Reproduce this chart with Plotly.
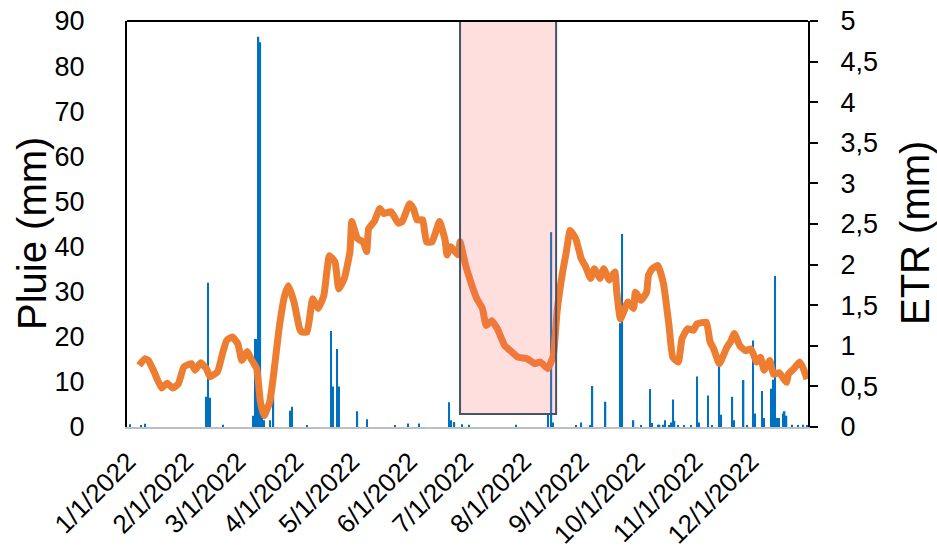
import pandas as pd
import plotly.graph_objects as go

YEAR_START = pd.Timestamp("2022-01-01")

# Daily rainfall (mm): day of year (Jan 1 = 0) and amount, rainy days only
rain_day = [1, 7, 9, 42, 43, 44, 51, 67, 68, 69, 70, 71, 72, 73, 76, 78, 87, 88,
            96, 109, 110, 112, 113, 123, 128, 143, 150, 156, 172, 173, 175, 179,
            183, 208, 225, 227, 228, 240, 243, 248, 249, 256, 264, 265, 271, 275,
            280, 281, 284, 285, 287, 288, 290, 291, 292, 293, 295, 298, 302, 305,
            306, 311, 313, 317, 318, 324, 325, 330, 332, 335, 336, 340, 341, 345,
            346, 347, 348, 349, 351, 352, 353, 356, 359, 362, 364]
rain_mm = [0.6, 0.3, 0.7, 6.7, 32.0, 6.5, 0.5, 2.5, 19.5, 19.5, 86.5, 85.3, 2.5, 1.5, 1.5, 6.8, 3.6, 4.5,
           0.4, 21.3, 9.0, 17.3, 9.0, 3.5, 1.7, 0.3, 0.8, 0.8, 5.5, 1.5, 1.1, 0.6,
           0.5, 0.5, 3.0, 43.2, 1.0, 0.3, 1.0, 0.4, 9.1, 5.6, 23.0, 42.8, 1.5, 0.3,
           8.4, 0.9, 0.5, 0.5, 0.5, 1.5, 0.4, 1.0, 6.1, 1.4, 0.3, 0.4, 0.3, 11.2,
           1.0, 7.0, 0.3, 14.0, 2.7, 6.7, 1.5, 10.4, 0.4, 19.2, 3.0, 8.0, 2.0, 8.5,
           10.5, 33.5, 2.0, 2.0, 3.0, 3.5, 2.5, 0.5, 0.4, 0.5, 0.3]

# Actual evapotranspiration (mm/day), sampled along the year
etr_day = [6, 9, 11, 14, 18, 21, 24, 27, 30, 34, 36, 39, 42, 44, 48, 51, 53, 56, 59,
           61, 64, 66, 69, 71, 73, 76, 78, 81, 84, 86, 89, 92, 93, 96, 99, 102, 105,
           108, 111, 113, 116, 119, 120, 123, 126, 128, 129, 132, 135, 137, 141, 145,
           147, 151, 153, 155, 158, 160, 163, 167, 170, 171, 173, 177, 178, 181, 184,
           187, 190, 192, 195, 198, 202, 205, 209, 214, 218, 221, 225, 228, 230, 233,
           235, 237, 240, 243, 245, 248, 250, 253, 255, 258, 261, 262, 264, 268, 271,
           272, 275, 278, 279, 281, 284, 287, 290, 292, 295, 297, 300, 303, 305, 310,
           312, 314, 317, 321, 323, 325, 328, 331, 334, 337, 339, 341, 344, 346, 349,
           353, 354, 357, 360, 362, 364]
etr_mm = [0.76, 0.84, 0.82, 0.68, 0.48, 0.54, 0.48, 0.53, 0.74, 0.78, 0.70, 0.79, 0.72, 0.62, 0.68, 0.93, 1.07, 1.11, 1.02,
          0.82, 0.93, 0.84, 0.72, 0.31, 0.14, 0.31, 0.63, 1.21, 1.62, 1.74, 1.54, 1.21, 1.17, 1.17, 1.58, 1.46, 1.62,
          2.11, 2.03, 1.70, 1.83, 2.16, 2.53, 2.32, 2.28, 2.16, 2.44, 2.53, 2.69, 2.63, 2.65, 2.51,
          2.53, 2.75, 2.69, 2.55, 2.55, 2.28, 2.28, 2.53, 2.30, 2.12, 2.22, 2.12, 2.28, 1.99, 1.77,
          1.58, 1.46, 1.25, 1.31, 1.21, 1.00, 0.94, 0.86, 0.84, 0.78, 0.80, 0.72, 0.88, 1.42, 1.91,
          2.16, 2.42, 2.32, 2.07, 1.99, 1.83, 1.95, 1.83, 1.95, 1.81, 1.91, 1.66, 1.33, 1.54, 1.46,
          1.66, 1.56, 1.66, 1.87, 1.95, 1.99, 1.77, 1.25, 0.86, 0.80, 1.09, 1.21, 1.19, 1.27, 1.29,
          1.05, 0.96, 0.78, 0.98, 1.05, 1.15, 1.00, 0.94, 0.96, 0.80, 0.86, 0.70, 0.82, 0.65, 0.67,
          0.55, 0.65, 0.72, 0.80, 0.72, 0.59]

# Month ticks on the date axis
month_ticks = ["2022-01-01", "2022-02-01", "2022-03-01", "2022-04-01", "2022-05-01", "2022-06-01",
               "2022-07-01", "2022-08-01", "2022-09-01", "2022-10-01", "2022-11-01", "2022-12-01"]
month_labels = ["1/1/2022", "2/1/2022", "3/1/2022", "4/1/2022", "5/1/2022", "6/1/2022",
                "7/1/2022", "8/1/2022", "9/1/2022", "10/1/2022", "11/1/2022", "12/1/2022"]

# Right axis ticks (decimal comma)
etr_ticks = [0, 0.5, 1, 1.5, 2, 2.5, 3, 3.5, 4, 4.5, 5]
etr_tick_text = ["0", "0,5", "1", "1,5", "2", "2,5", "3", "3,5", "4", "4,5", "5"]

# Highlighted dry period
dry_start, dry_end = "2022-06-28", "2022-08-18 12:00"
dry_bottom = 2.9

rain_dates = YEAR_START + pd.to_timedelta(rain_day, unit="D")
etr_dates = YEAR_START + pd.to_timedelta(etr_day, unit="D")

FONT = "Liberation Sans, Arial, sans-serif"

fig = go.Figure()
fig.add_trace(go.Bar(
    x=rain_dates, y=rain_mm, name="Pluie",
    marker=dict(color="#0070C0", line=dict(width=0)),
    width=86400000 * 0.75,
))
fig.add_trace(go.Scatter(
    x=etr_dates, y=etr_mm, name="ETR", yaxis="y2", mode="lines",
    line=dict(color="#ED7D31", width=7, shape="spline", smoothing=0.4),
))

# Dry-period box
fig.add_shape(type="rect", xref="x", yref="y",
              x0=dry_start, x1=dry_end, y0=dry_bottom, y1=90,
              fillcolor="rgba(255,105,105,0.22)",
              line=dict(color="#44546A", width=2), layer="above")
# Top border of the plot area
fig.add_shape(type="line", xref="paper", yref="paper", x0=0, x1=1, y0=1, y1=1,
              line=dict(color="black", width=2), layer="above")

fig.update_layout(
    width=937, height=554,
    margin=dict(l=127, r=129, t=21, b=127, autoexpand=False),
    paper_bgcolor="white", plot_bgcolor="white",
    showlegend=False,
    font=dict(family=FONT, size=27, color="black"),
    xaxis=dict(
        type="date", automargin=False,
        range=["2021-12-31 12:00", "2022-12-31 12:00"],
        tickvals=month_ticks, ticktext=month_labels,
        tickangle=-45, ticks="", showgrid=False, zeroline=False,
        showline=True, linecolor="#BFBFBF", linewidth=2,
        tickfont=dict(size=26), ticklabelstandoff=7,
    ),
    yaxis=dict(
        range=[0, 90], dtick=10, showgrid=False, zeroline=False,
        automargin=False,
        showline=True, linecolor="black", linewidth=2,
        ticks="", ticklabelstandoff=35,
    ),
    yaxis2=dict(
        range=[0, 5], overlaying="y", side="right",
        automargin=False,
        tickvals=etr_ticks, ticktext=etr_tick_text,
        showgrid=False, zeroline=False,
        showline=True, linecolor="black", linewidth=2,
        ticks="outside", ticklen=8, tickwidth=2, tickcolor="black",
        ticklabelstandoff=17,
    ),
    annotations=[
        dict(text="Pluie (mm)", xref="paper", yref="paper",
             x=(32 - 127) / 681, y=(427 - 234) / 406, textangle=-90,
             showarrow=False, xanchor="center", yanchor="middle",
             font=dict(size=40)),
        dict(text="ETR (mm)", xref="paper", yref="paper",
             x=(915 - 127) / 681, y=(427 - 233) / 406, textangle=-90,
             showarrow=False, xanchor="center", yanchor="middle",
             font=dict(size=40)),
    ],
)

fig.write_html("out.html")
